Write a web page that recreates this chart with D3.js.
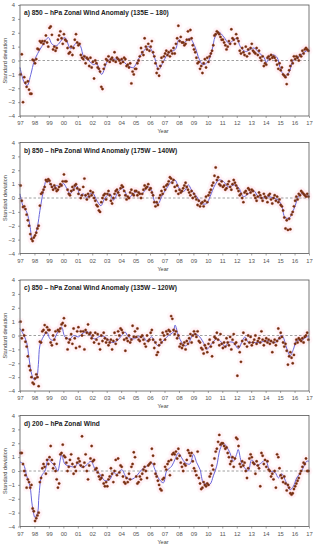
<!DOCTYPE html>
<html>
<head>
<meta charset="utf-8">
<script src="https://cdn.jsdelivr.net/npm/d3@7"></script>
<style>
  body { margin: 0; background: #fff; }
  svg text { font-family: "Liberation Sans", Arial, sans-serif; }
</style>
</head>
<body>
<div id="chart"></div>
<script>
// panel titles
const titles = [
  "a) 850 \u2013 hPa Zonal Wind Anomaly (135E \u2013 180)",
  "b) 850 \u2013 hPa Zonal Wind Anomaly (175W \u2013 140W)",
  "c) 850 \u2013 hPa Zonal Wind Anomaly (135W \u2013 120W)",
  "d) 200 \u2013 hPa Zonal Wind"
];
const years = d3.range(1997, 2018);
const yTicks = [-4, -3, -2, -1, 0, 1, 2, 3, 4];

// monthly standardized anomalies, Jan 1997 .. Dec 2016 (12 per row)
const dotsA = [
  -1.0, 0.45, -3.0, -1.2, -1.6, -1.9, -1.5, -2.1, -2.4, -2.4, 0.05, 0.0,
  -0.2, 0.1, 0.85, 0.8, 1.4, 1.3, 1.4, 1.2, 1.4, 1.8, 1.3, 1.0,
  2.35, 2.45, 1.85, 0.8, 1.0, 0.7, 0.9, 1.5, 1.8, 2.1, 1.6, 1.2,
  1.9, 1.5, 1.4, 0.9, 0.5, 0.6, 1.0, 0.4, 0.9, 1.5, 1.9, 1.3,
  1.1, 1.2, 0.4, 0.2, 0.1, 0.3, -0.2, 0.2, 0.1, -0.4, 0.2, -0.5,
  -0.1, -1.3, 0.0, -0.2, -0.5, -0.6, -0.8, -1.9, -2.05, -0.6, -0.3, 0.1,
  0.0, 0.3, -0.1, 0.1, 0.2, 0.0, 0.6, -0.1, 0.2, 0.1, 0.0, -0.2,
  0.1, -0.1, 0.2, 0.1, -0.4, -0.3, -0.5, -0.2, -1.65, -0.8, -1.0, -0.6,
  -0.6, -0.2, 0.0, 0.3, 0.9, 0.6, 0.4, 1.6, 1.0, 0.8, 1.2, 0.7,
  1.0, 1.4, 0.6, 0.3, -0.2, -0.9, -0.6, -1.1, -0.4, 0.2, -0.1, 0.3,
  0.5, 0.7, 0.4, 0.6, 0.3, 0.7, 0.5, 0.9, 0.5, 1.2, 1.6, 2.5,
  1.4, 1.7, 1.3, 1.3, 1.1, 1.2, 1.5, 2.1, 1.5, 2.2, 1.6, 1.1,
  0.8, 0.6, 0.2, -0.2, -0.1, -0.6, -0.4, -0.9, -0.2, 0.1, -0.5, 0.2,
  -0.1, 0.3, 0.5, 0.7, 1.1, 1.8, 1.9, 2.1, 2.0, 1.9, 1.7, 1.5,
  1.5, 1.3, 1.1, 0.8, 1.0, 1.4, 1.2, 2.25, 1.6, 1.5, 1.2, 1.9,
  1.6, 1.4, 0.7, 0.5, 0.9, 0.6, 0.4, 1.0, 0.3, 0.8, 0.5, 0.9,
  1.2, 0.7, 0.6, 0.5, 0.9, 0.4, 0.7, 0.2, 0.0, 0.3, -0.4, -0.2,
  -0.3, 0.2, 0.3, 0.1, 0.4, 0.2, 0.3, 0.2, 0.0, -0.3, -0.6, -0.2,
  -0.7, -0.5, -1.0, -1.1, -1.2, -1.7, -1.0, -0.7, -0.4, 0.0, -0.2, 0.3,
  0.1, 0.3, 0.2, 0.0, 0.4, 0.3, 0.7, 0.5, 0.8, 0.9, 0.8, 0.7
];
const dotsB = [
  0.9, -0.2, -0.65, -0.6, -0.8, -1.2, -1.6, -2.0, -2.6, -2.95, -3.1, -2.85,
  -2.7, -2.5, -2.2, -2.0, -0.55, 0.3, 0.4, 0.6, 0.8, 1.3, 1.2, 1.35,
  1.25, 1.0, 0.8, 0.6, 0.9, 0.7, 0.5, 0.6, 0.8, 1.0, 0.9, 1.2,
  1.7, 1.2, 1.2, 0.6, 0.3, 0.2, 0.5, 0.8, 0.6, 0.9, 1.0, 0.7,
  0.3, 0.6, 0.0, 0.2, 0.8, 1.4, 0.2, -0.1, 0.3, 0.1, 0.5, 0.2,
  0.4, 0.0, -0.2, -0.5, -0.6, -0.9, -1.0, -0.3, 0.0, 0.2, 0.3, -0.1,
  0.3, 0.5, 0.2, -0.2, -0.4, 0.0, 0.3, 0.5, 0.6, 0.4, 0.2, 0.7,
  0.9, 0.8, 0.5, 0.2, -0.1, 0.1, 0.0, 0.4, 0.6, 0.3, 0.2, 0.5,
  0.5, 0.2, 0.4, 0.3, 0.0, 0.3, 0.6, 0.9, 0.7, 0.8, 1.0, 0.6,
  0.7, 0.4, 0.2, -0.3, -0.6, -0.3, -0.5, 0.0, 0.2, 0.5, 0.3, 0.8,
  0.6, 0.9, 1.0, 1.2, 1.5, 1.4, 1.1, 1.3, 0.8, 0.5, 0.9, 0.3,
  0.6, 0.4, 0.5, 0.7, 0.9, 1.1, 0.8, 0.6, 0.4, 0.2, 0.5, 0.0,
  0.3, 0.1, -0.1, -0.5, -0.2, -0.6, -0.4, -0.3, -0.6, -0.2, 0.1, -0.3,
  0.2, 0.4, 0.6, 0.9, 1.1, 1.6, 2.2, 1.3, 1.5, 1.0, 0.9, 1.2,
  0.8, 0.9, 0.6, 0.7, 1.0, 1.2, 0.8, 0.6, 1.0, 1.3, 1.1, 0.9,
  0.7, 0.5, 0.2, 0.3, 0.0, -0.3, 0.4, 0.5, 0.3, 0.7, 0.6, 0.4,
  0.6, 0.5, 0.2, 0.0, -0.2, 0.1, 0.4, 0.2, 0.0, -0.2, 0.3, 0.1,
  0.0, -0.3, 0.2, 0.3, -0.1, -0.4, 0.0, 0.2, -0.2, 0.1, -0.3, -0.1,
  -0.5, -0.6, -0.9, -1.4, -2.2, -1.6, -2.3, -1.5, -2.25, -1.2, -1.0, -0.6,
  -0.2, 0.1, -0.1, 0.3, 0.2, 0.5, 0.4, 0.3, 0.2, 0.1, 0.3, 0.1
];
const dotsC = [
  1.0, -0.2, 0.4, 0.0, -0.45, -0.8, -1.5, -2.2, -2.5, -3.0, -3.4, -3.5,
  -3.1, -2.8, -3.0, -3.65, -0.45, -0.5, 0.3, 0.4, 0.75, 0.2, 0.6, 0.4,
  0.4, -0.5, -0.7, 0.0, -0.3, 0.3, -0.6, 0.4, 0.3, 0.5, 0.8, 0.9,
  1.25, 0.7, -0.2, -1.0, -0.5, -0.3, 0.1, -0.6, 0.5, -0.2, -0.9, 0.3,
  0.6, -0.8, 0.3, 0.0, 0.3, -1.0, 0.4, 0.2, 0.8, 0.1, 0.2, -0.2,
  0.0, -0.5, 0.2, -0.3, 0.1, -0.6, -1.0, 0.0, -0.4, 0.2, -0.2, -0.5,
  -0.3, -0.7, -0.5, -0.3, -1.0, -0.4, 0.2, -0.6, -0.3, 0.3, 0.0, 0.5,
  0.4, 0.2, -0.3, -1.1, -0.2, -0.4, 0.0, -0.5, -0.3, 0.7, -0.1, 0.3,
  -0.1, 0.5, -0.3, -0.4, -0.1, 0.0, -0.3, -0.6, -0.8, 0.0, -0.4, -0.3,
  0.2, 0.4, -0.3, -0.9, -0.5, -1.4, -1.2, -0.7, -0.3, -0.5, 0.2, 0.0,
  -0.3, 0.3, 0.1, 0.4, 0.3, 1.4, 1.2, 0.4, 0.1, 0.3, -0.2, 0.0,
  -0.8, -0.6, -0.9, -0.7, -0.5, -1.0, -0.4, -0.6, -0.2, 0.1, -0.5, 0.0,
  0.3, 0.1, -0.1, 0.3, -0.4, -0.5, -0.9, -1.0, -1.3, -0.7, -0.9, -1.2,
  -0.6, -0.3, -0.8, -1.5, -0.5, -0.1, -0.2, 0.2, -0.3, -0.7, 0.1, -0.6,
  -0.9, -0.5, -0.8, -0.2, -0.5, -0.7, -0.1, -1.0, -0.3, 0.1, -0.6, -0.5,
  -2.9, -0.8, -1.2, -1.9, -0.4, 0.2, -0.6, -0.3, -0.8, 0.0, -0.5, -0.1,
  -0.7, -0.5, -0.3, 0.0, -0.6, -0.4, -0.2, -0.5, 0.3, -0.3, -0.7, -0.4,
  -0.2, -0.5, -0.3, -0.6, -0.4, -1.2, -0.5, -0.3, -0.7, -0.4, 0.5, -0.2,
  0.2, -0.1, -0.5, -0.8, -0.6, -1.1, -2.1, -1.5, -1.2, -1.6, -2.0, -1.4,
  -0.6, -0.3, -0.5, -0.2, -0.3, -0.4, -0.2, -0.5, -0.1, 0.0, 0.2, -0.3
];
const dotsD = [
  1.3, 1.3, 0.5, 0.0, -0.3, -1.2, -0.6, -0.8, -1.2, -1.0, -2.7, -2.9,
  -3.6, -3.4, -3.2, -3.0, -0.8, -0.5, 0.2, 0.5, 0.3, -0.2, 0.8, 0.5,
  1.0, 1.8, 0.8, 0.2, 0.5, 0.0, -0.6, -1.2, -0.9, 1.2, 1.3, 1.9,
  1.1, 1.0, 0.6, 0.0, 0.3, 0.8, 1.2, 0.5, -0.2, 0.3, 0.0, 0.6,
  0.9, 0.7, 0.4, 2.5, 0.3, 0.6, 1.2, 0.0, -0.6, 0.4, 0.9, 1.8,
  0.7, 0.8, 0.1, 0.2, -0.1, -0.4, -0.6, -0.5, -0.3, -0.9, -1.1, -0.8,
  -1.1, -0.6, -0.4, 0.2, -0.2, -0.8, 0.0, 0.8, -0.3, 0.9, -0.1, 0.4,
  0.3, -0.4, -0.8, -0.9, -0.5, -0.8, -0.2, -0.6, 0.3, 0.5, 1.35, 1.0,
  -0.4, -0.9, -0.8, -0.4, -0.6, -0.2, 0.1, 0.3, 0.0, -0.5, 0.4, 0.5,
  0.6, 1.6, 1.1, 0.5, -0.2, -0.4, -0.7, -1.0, -1.3, -1.4, -0.6, -0.5,
  0.3, 0.1, 0.5, 0.7, -0.3, 0.8, 1.2, 1.3, 1.2, 1.4, 0.9, 1.6,
  1.1, 0.6, 0.3, 0.0, 0.5, 0.4, 0.8, 1.5, 1.3, 1.1, 1.3, 0.7,
  0.2, 0.0, -0.3, 1.4, -0.5, -0.9, -1.3, -1.2, -0.8, -1.0, -1.1, -0.9,
  -1.0, -0.4, -0.2, 0.4, 0.1, 0.9, 1.4, 1.6, 2.1, 2.6, 1.9, 2.0,
  2.0, 1.8, 1.6, 1.7, 1.3, 1.0, 0.5, 0.7, 1.0, 0.3, 0.9, 2.4,
  2.3, 1.8, 0.5, 0.3, 0.7, 0.4, 0.6, 0.0, -0.5, 0.2, 0.9, 1.2,
  1.0, 0.6, 0.5, -0.2, 0.7, 0.4, 0.2, -1.1, 1.3, 1.1, 0.5, 0.8,
  0.3, 0.7, 0.1, 0.0, -0.4, -0.2, -0.6, 0.0, -1.2, 1.2, 1.0, 0.2,
  -0.3, -0.5, -0.8, -0.4, -0.9, -1.4, -1.0, -1.2, -1.6, -1.7, -1.6, -1.3,
  -1.1, -0.9, -0.7, -0.5, -0.2, 0.0, 0.3, 0.6, 0.5, 0.9, 0.0, 0.0
];

// smoothed curves: [decimal year, value]
const smoothA = [[1997.0,-0.5],[1997.3,-1.6],[1997.5,-1.8],[1997.75,-1.0],[1998.0,0.0],[1998.5,1.0],[1998.97,1.65],[1999.2,1.2],[1999.5,1.05],[2000.1,1.65],[2000.5,0.85],[2000.95,1.3],[2001.2,1.0],[2001.4,0.3],[2001.75,0.0],[2002.1,-0.3],[2002.3,-0.2],[2002.65,-1.0],[2003.1,0.0],[2003.6,0.1],[2004.0,0.05],[2004.5,-0.4],[2004.85,-0.5],[2005.2,0.1],[2005.5,0.6],[2005.9,1.0],[2006.25,0.4],[2006.6,-0.65],[2006.95,0.0],[2007.3,0.55],[2007.75,0.8],[2008.0,1.5],[2008.3,1.25],[2008.75,1.6],[2009.1,1.0],[2009.4,0.1],[2009.65,-0.3],[2010.0,-0.1],[2010.3,0.8],[2010.5,1.7],[2010.75,2.05],[2011.1,1.7],[2011.45,1.25],[2011.7,1.4],[2012.0,1.6],[2012.25,1.0],[2012.6,0.65],[2012.95,0.8],[2013.2,0.9],[2013.55,0.55],[2013.9,0.2],[2014.05,-0.15],[2014.3,0.35],[2014.55,0.4],[2014.8,0.2],[2015.0,-0.5],[2015.3,-1.1],[2015.6,-0.9],[2015.9,0.0],[2016.2,0.2],[2016.6,0.55],[2017.0,0.8]];
const smoothB = [[1997.0,0.3],[1997.23,-0.65],[1997.46,-1.0],[1997.69,-2.0],[1997.85,-3.0],[1998.04,-2.7],[1998.22,-2.0],[1998.38,-0.9],[1998.61,0.45],[1998.85,1.3],[1999.08,1.05],[1999.31,0.7],[1999.54,0.9],[1999.77,0.8],[2000.0,1.05],[2000.23,0.7],[2000.46,0.3],[2000.69,0.6],[2000.92,0.9],[2001.15,0.2],[2001.38,0.3],[2001.61,0.0],[2001.84,0.3],[2002.07,0.3],[2002.3,-0.15],[2002.6,-0.55],[2002.88,0.0],[2003.23,0.3],[2003.46,-0.15],[2003.8,0.45],[2004.04,0.7],[2004.27,0.45],[2004.5,0.0],[2004.84,0.3],[2005.07,0.45],[2005.42,0.3],[2005.88,0.8],[2006.11,0.55],[2006.34,-0.3],[2006.57,-0.4],[2006.8,0.1],[2007.15,0.7],[2007.5,1.2],[2007.73,1.3],[2007.96,0.8],[2008.19,0.45],[2008.42,0.55],[2008.65,0.95],[2008.88,0.55],[2009.23,0.1],[2009.57,-0.4],[2009.92,-0.4],[2010.15,0.1],[2010.5,0.95],[2010.77,1.3],[2011.07,1.2],[2011.42,0.8],[2011.88,0.95],[2012.16,0.7],[2012.46,0.1],[2012.8,0.3],[2013.15,0.55],[2013.49,0.1],[2013.84,0.0],[2014.19,0.1],[2014.53,0.0],[2014.88,-0.15],[2015.11,-0.55],[2015.34,-1.4],[2015.62,-1.45],[2015.8,-1.15],[2016.03,-0.6],[2016.26,0.1],[2016.49,0.3],[2016.84,0.2],[2017.0,0.1]];
const smoothC = [[1997.0,0.5],[1997.23,0.1],[1997.46,-0.5],[1997.62,-1.6],[1997.81,-2.8],[1997.99,-3.2],[1998.15,-3.05],[1998.27,-2.1],[1998.38,-0.7],[1998.61,-0.1],[1998.85,0.25],[1999.08,-0.25],[1999.31,-0.35],[1999.54,0.1],[1999.88,0.6],[2000.11,-0.1],[2000.46,-0.25],[2000.69,0.0],[2001.04,-0.1],[2001.27,0.1],[2001.5,0.25],[2001.73,0.25],[2001.96,-0.1],[2002.19,-0.25],[2002.54,-0.05],[2002.88,-0.1],[2003.34,-0.5],[2003.69,-0.4],[2004.04,0.0],[2004.27,0.25],[2004.5,-0.1],[2004.84,-0.25],[2005.19,-0.1],[2005.54,-0.1],[2005.77,-0.4],[2006.11,-0.1],[2006.34,-0.5],[2006.57,-0.75],[2006.8,-0.5],[2007.03,-0.25],[2007.27,0.0],[2007.61,0.25],[2007.73,0.75],[2007.96,0.0],[2008.19,-0.5],[2008.42,-0.75],[2008.65,-0.6],[2009.0,0.1],[2009.34,0.0],[2009.69,-0.5],[2009.92,-1.0],[2010.26,-0.6],[2010.61,-0.25],[2010.96,-0.5],[2011.19,-0.85],[2011.42,-0.5],[2011.76,-0.5],[2012.11,-0.95],[2012.34,-0.5],[2012.57,-0.1],[2012.8,-0.5],[2013.03,-0.5],[2013.6,-0.5],[2013.95,-0.4],[2014.3,-0.4],[2014.53,-0.5],[2014.76,-0.45],[2015.05,0.0],[2015.2,-0.1],[2015.45,-0.9],[2015.7,-1.45],[2015.92,-1.0],[2016.15,-0.35],[2016.49,-0.35],[2016.84,-0.1],[2017.0,-0.1]];
const smoothD = [[1997.0,0.65],[1997.23,0.5],[1997.46,-0.35],[1997.69,-1.1],[1997.85,-2.5],[1998.04,-3.35],[1998.22,-3.0],[1998.31,-1.8],[1998.5,-0.35],[1998.73,0.0],[1998.96,0.85],[1999.19,0.6],[1999.42,0.35],[1999.61,0.0],[1999.88,1.15],[2000.11,0.5],[2000.46,0.35],[2000.81,0.3],[2001.0,0.6],[2001.27,0.25],[2001.57,0.4],[2001.91,0.7],[2002.19,0.15],[2002.54,-0.25],[2002.88,-0.7],[2003.23,-0.6],[2003.46,-0.1],[2003.69,-0.25],[2004.04,0.1],[2004.38,-0.5],[2004.73,-0.6],[2005.07,-0.35],[2005.42,0.1],[2005.77,0.35],[2006.11,0.6],[2006.34,0.1],[2006.57,-0.5],[2006.92,-0.85],[2007.15,0.0],[2007.5,0.35],[2007.73,0.85],[2007.96,1.3],[2008.19,0.95],[2008.42,0.6],[2008.76,0.5],[2009.0,1.2],[2009.23,0.6],[2009.46,0.1],[2009.69,-0.85],[2009.92,-0.95],[2010.15,-0.95],[2010.38,-0.35],[2010.61,0.35],[2010.84,1.55],[2011.07,2.0],[2011.3,1.75],[2011.53,1.3],[2011.76,0.7],[2011.99,1.2],[2012.1,1.55],[2012.34,0.55],[2012.57,0.2],[2012.8,0.0],[2013.03,0.8],[2013.38,0.4],[2013.72,0.6],[2013.99,0.8],[2014.3,0.0],[2014.65,-0.1],[2014.88,-0.5],[2015.11,-0.2],[2015.39,-0.75],[2015.69,-1.35],[2015.92,-1.1],[2016.15,-0.5],[2016.49,0.0],[2016.84,0.7],[2017.0,0.7]];

const panels = [
  { title: titles[0], dots: dotsA, smooth: smoothA, top: 5 },
  { title: titles[1], dots: dotsB, smooth: smoothB, top: 142.5 },
  { title: titles[2], dots: dotsC, smooth: smoothC, top: 280 },
  { title: titles[3], dots: dotsD, smooth: smoothD, top: 415.5 }
];

const width = 313, height = 550;
const left = 20, right = 309, plotH = 111;

const svg = d3.select("#chart").append("svg")
  .attr("width", width)
  .attr("height", height);

const x = d3.scaleLinear().domain([1997, 2017]).range([left, right]);

panels.forEach((p, i) => {
  const y = d3.scaleLinear().domain([-4, 4]).range([p.top + plotH, p.top]);
  const g = svg.append("g").attr("class", "panel-" + i);

  const pts = p.dots.map((v, k) => ({ t: 1997 + (k + 0.5) / 12, v: v }));

  // faint pink haze behind the dots, as in the original
  g.append("g").selectAll("circle")
    .data(pts)
    .enter()
    .append("circle")
    .attr("cx", d => x(d.t))
    .attr("cy", d => y(d.v))
    .attr("r", 4)
    .attr("fill", "#ffe6ef")
    .attr("opacity", 0.35)

  // zero line
  g.append("line")
    .attr("x1", left).attr("x2", right)
    .attr("y1", y(0)).attr("y2", y(0))
    .attr("stroke", "#888")
    .attr("stroke-width", 0.8)
    .attr("stroke-dasharray", "2.5,2");

  // smoothed curve
  const line = d3.line()
    .x(d => x(d[0]))
    .y(d => y(d[1]))
    .curve(d3.curveCatmullRom.alpha(0.5));

  g.append("path")
    .datum(p.smooth)
    .attr("d", line)
    .attr("fill", "none")
    .attr("stroke", "#6a66dc")
    .attr("stroke-width", 1);

  g.append("g").selectAll("circle")
    .data(pts)
    .enter()
    .append("circle")
    .attr("cx", d => x(d.t))
    .attr("cy", d => y(d.v))
    .attr("r", 1.2)
    .attr("fill", "#6b2a12")
    .attr("stroke", "#a14a22")
    .attr("stroke-width", 0.4);

  // axes
  const ya = g.append("g")
    .attr("transform", `translate(${left},0)`)
    .call(d3.axisLeft(y).tickValues(yTicks).tickSize(2).tickPadding(3));
  const xa = g.append("g")
    .attr("transform", `translate(0,${p.top + plotH})`)
    .call(d3.axisBottom(x).tickValues(years).tickSize(2).tickPadding(3)
      .tickFormat(d => String(d % 100).padStart(2, "0")));

  [ya, xa].forEach(a => {
    a.select(".domain").remove();
    a.selectAll("line").attr("stroke", "#666").attr("stroke-width", 0.6);
    a.selectAll("text").attr("fill", "#555").style("font-size", "5.8px");
  });

  // frame
  g.append("rect")
    .attr("x", left).attr("y", p.top)
    .attr("width", right - left).attr("height", plotH)
    .attr("fill", "none")
    .attr("stroke", "#555")
    .attr("stroke-width", 0.8);

  g.append("text")
    .attr("x", left + 4)
    .attr("y", p.top + 10)
    .attr("font-size", "6.6px")
    .attr("font-weight", "bold")
    .attr("fill", "#222")
    .text(p.title);

  g.append("text")
    .attr("transform", `translate(7,${p.top + plotH / 2}) rotate(-90)`)
    .attr("text-anchor", "middle")
    .attr("font-size", "5.5px")
    .attr("fill", "#444")
    .text("Standard deviation");

  g.append("text")
    .attr("x", 163)
    .attr("y", p.top + plotH + 17)
    .attr("text-anchor", "middle")
    .attr("font-size", "5.5px")
    .attr("fill", "#444")
    .text("Year");
});
</script>
</body>
</html>
